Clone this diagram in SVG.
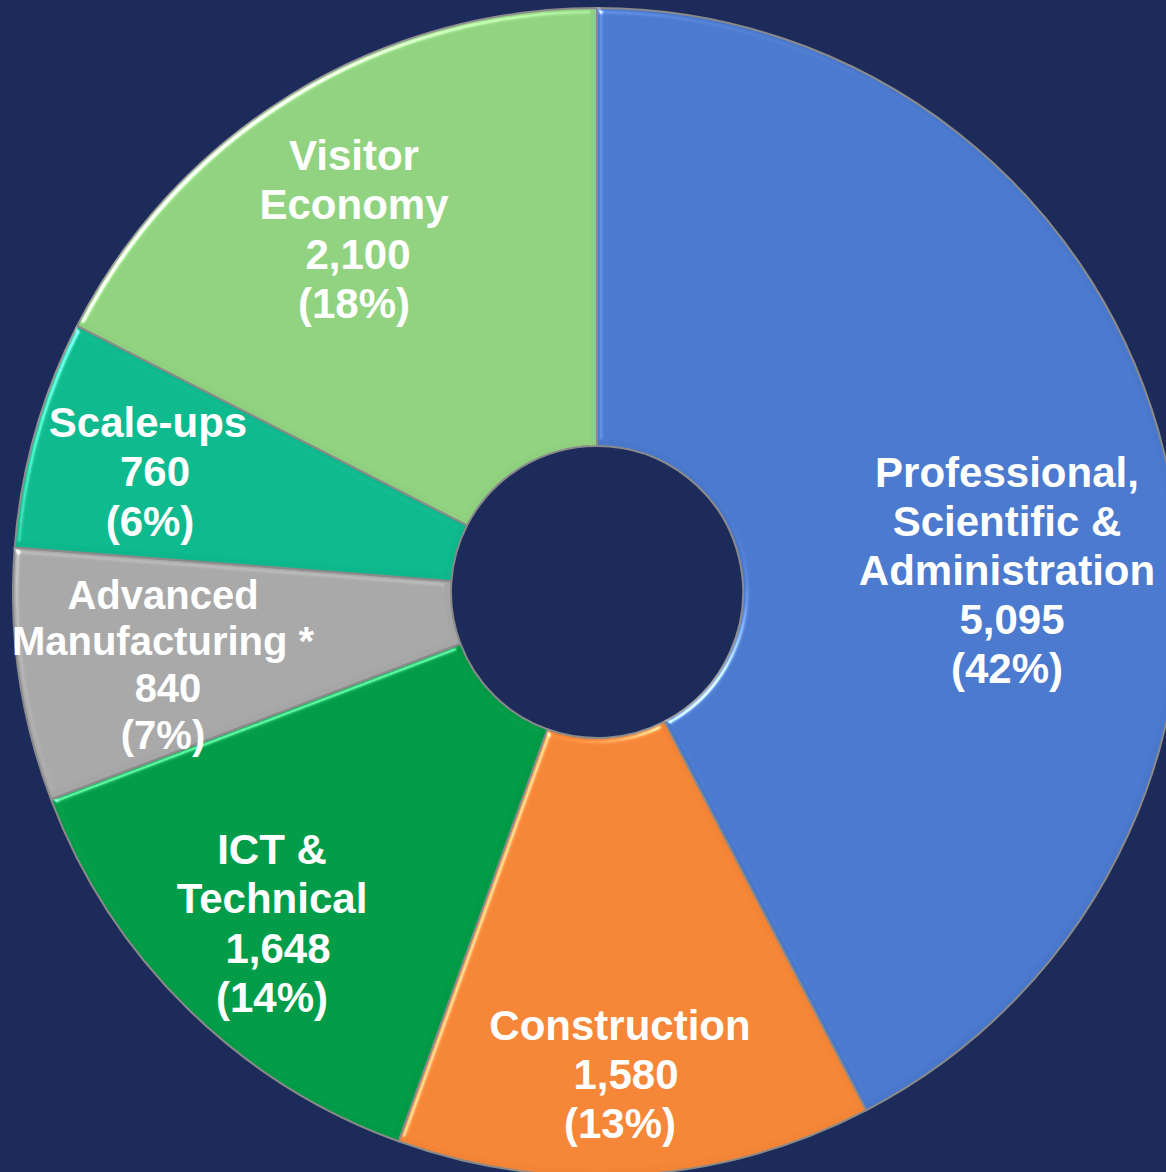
<svg xmlns="http://www.w3.org/2000/svg" width="1166" height="1172" viewBox="0 0 1166 1172">
<style>
.seg{stroke:#8a8a8a;stroke-width:2;stroke-linejoin:round;filter:url(#bevel)}
.lbl{font-family:"Liberation Sans",Arial,sans-serif;font-weight:bold;font-size:42px;fill:#ffffff;text-anchor:middle}
</style>
<defs>
<filter id="bevel" x="-5%" y="-5%" width="110%" height="110%" color-interpolation-filters="sRGB">
  <feGaussianBlur in="SourceAlpha" stdDeviation="3" result="blur"/>
  <feSpecularLighting in="blur" surfaceScale="4" specularConstant="0.7" specularExponent="40" lighting-color="#ffffff" result="spec">
    <feDistantLight azimuth="225" elevation="40"/>
  </feSpecularLighting>
  <feComposite in="spec" in2="SourceAlpha" operator="in" result="specIn"/>
  <feComposite in="SourceGraphic" in2="specIn" operator="arithmetic" k1="0" k2="1" k3="1" k4="0"/>
</filter>
</defs>
<rect x="0" y="0" width="1166" height="1172" fill="#1c2b5a"/>
<g id="professional">
<path class="seg" fill="#4877cb" d="M597,8 A584,584 0 0 1 866.1,1110.3 L664.3,721.6 A146,146 0 0 0 597,446 Z"/>
<text class="lbl"><tspan x="1007" y="487">Professional,</tspan><tspan x="1007" y="536">Scientific &amp;</tspan><tspan x="1007" y="585">Administration</tspan><tspan x="1012" y="634">5,095</tspan><tspan x="1007" y="683">(42%)</tspan></text>
</g>
<g id="construction">
<path class="seg" fill="#f38436" d="M866.1,1110.3 A584,584 0 0 1 398.5,1141.3 L547.4,729.3 A146,146 0 0 0 664.3,721.6 Z"/>
<text class="lbl"><tspan x="620" y="1040">Construction</tspan><tspan x="626" y="1089">1,580</tspan><tspan x="620" y="1138">(13%)</tspan></text>
</g>
<g id="ict">
<path class="seg" fill="#009a47" d="M398.5,1141.3 A584,584 0 0 1 51,799.3 L460.5,643.8 A146,146 0 0 0 547.4,729.3 Z"/>
<text class="lbl"><tspan x="272" y="864">ICT &amp;</tspan><tspan x="272" y="913">Technical</tspan><tspan x="278" y="963">1,648</tspan><tspan x="272" y="1012">(14%)</tspan></text>
</g>
<g id="advanced-manufacturing">
<path class="seg" fill="#a6a6a6" d="M51,799.3 A584,584 0 0 1 14.7,547.6 L451.4,580.9 A146,146 0 0 0 460.5,643.8 Z"/>
<text class="lbl" style="font-size:40px"><tspan x="163" y="609">Advanced</tspan><tspan x="163" y="655">Manufacturing *</tspan><tspan x="168" y="702">840</tspan><tspan x="163" y="749">(7%)</tspan></text>
</g>
<g id="scale-ups">
<path class="seg" fill="#0bb78b" d="M14.7,547.6 A584,584 0 0 1 77.2,325.8 L467.1,525.4 A146,146 0 0 0 451.4,580.9 Z"/>
<text class="lbl"><tspan x="148" y="437">Scale-ups</tspan><tspan x="155" y="486">760</tspan><tspan x="150" y="536">(6%)</tspan></text>
</g>
<g id="visitor-economy">
<path class="seg" fill="#8fd07f" d="M77.2,325.8 A584,584 0 0 1 597,8 L597,446 A146,146 0 0 0 467.1,525.4 Z"/>
<text class="lbl"><tspan x="354" y="170">Visitor</tspan><tspan x="354" y="219">Economy</tspan><tspan x="358" y="269">2,100</tspan><tspan x="354" y="318">(18%)</tspan></text>
</g>
<g id="connectors"></g>
</svg>
